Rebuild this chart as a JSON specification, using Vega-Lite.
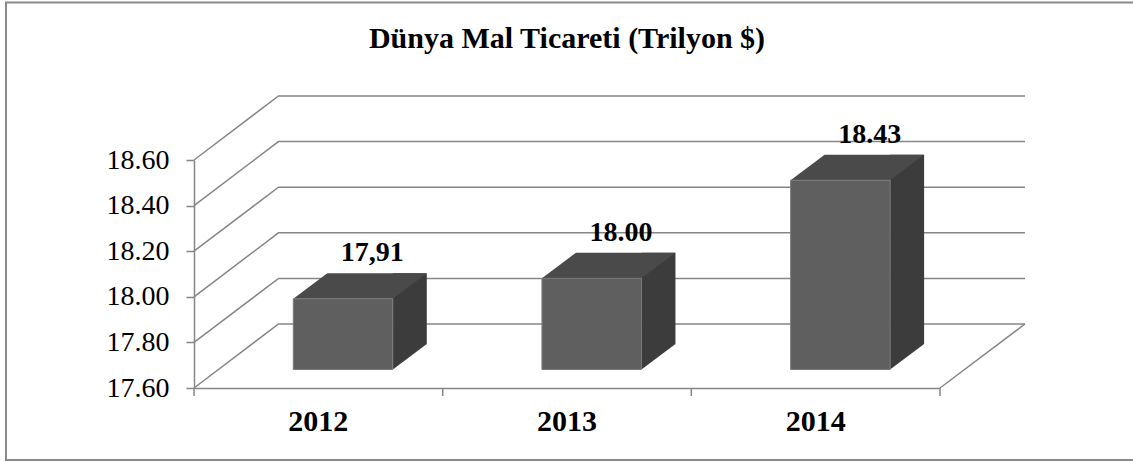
{
  "$schema": "https://vega.github.io/schema/vega-lite/v6.json",
  "width": 746,
  "height": 228,
  "autosize": {"type": "none"},
  "padding": {"left": 194, "top": 160, "right": 193, "bottom": 74},
  "background": "white",
  "title": {"text": "Dünya Mal Ticareti (Trilyon $)", "font": "Liberation Serif", "fontSize": 30, "fontWeight": "bold", "color": "black", "anchor": "middle", "offset": 0, "dy": 55},
  "config": {"view": {"stroke": null}, "axis": {"grid": false}},
  "datasets": {
    "bars": [
      {"year": "2012", "value": 17.91, "label": "17,91"},
      {"year": "2013", "value": 18.00, "label": "18.00"},
      {"year": "2014", "value": 18.43, "label": "18.43"}
    ],
    "ticks": [{"v": 17.6}, {"v": 17.8}, {"v": 18.0}, {"v": 18.2}, {"v": 18.4}, {"v": 18.6}]
  },
  "layer": [
    {
      "data": {"values": [{"v": 17.6}]},
      "mark": {"type": "point", "shape": "M-561,-385.5 L590,-385.5 L590,72 L-561,72 Z", "size": 4, "filled": false, "stroke": "#8a8a8a", "strokeWidth": 2, "opacity": 1},
      "encoding": {"y": {"field": "v", "type": "quantitative", "scale": {"domain": [17.6, 18.6], "zero": false, "nice": false}}}
    },
    {
      "data": {"name": "ticks"},
      "mark": {"type": "point", "shape": "M-373,0 L-288.5,-64 L458,-64", "size": 4, "filled": false, "stroke": "#868686", "strokeWidth": 1.5, "opacity": 1},
      "encoding": {"y": {"field": "v", "type": "quantitative", "scale": {"domain": [17.6, 18.6], "zero": false, "nice": false}}}
    },
    {
      "data": {"values": [{"v": 17.6}]},
      "mark": {"type": "point", "shape": "M373,0 L458,-64 M-373,0 L-373,8 M-124.3,0 L-124.3,8 M124.3,0 L124.3,8 M373,0 L373,8", "size": 4, "filled": false, "stroke": "#868686", "strokeWidth": 1.5, "opacity": 1},
      "encoding": {"y": {"field": "v", "type": "quantitative", "scale": {"domain": [17.6, 18.6], "zero": false, "nice": false}}}
    },
    {
      "data": {"name": "bars"},
      "mark": {"type": "bar", "fill": "#3c3c3c", "width": 34, "xOffset": 91.45, "yOffset": -44.1, "y2Offset": -44.1},
      "encoding": {
        "x": {"field": "year", "type": "ordinal", "scale": {"type": "band", "paddingInner": 0.6, "paddingOuter": 0.3}},
        "y": {"field": "value", "type": "quantitative", "scale": {"domain": [17.6, 18.6], "zero": false, "nice": false}},
        "y2": {"datum": 17.6}
      }
    },
    {
      "data": {"name": "bars"},
      "mark": {"type": "point", "shape": "M74.45,-18.5 L74.45,-44.1 L108.45,-44.1 Z", "size": 4, "filled": true, "fill": "#3c3c3c", "strokeWidth": 0, "opacity": 1},
      "encoding": {
        "x": {"field": "year", "type": "ordinal", "scale": {"type": "band", "paddingInner": 0.6, "paddingOuter": 0.3}},
        "y": {"datum": 17.6, "type": "quantitative", "scale": {"domain": [17.6, 18.6], "zero": false, "nice": false}}
      }
    },
    {
      "data": {"name": "bars"},
      "mark": {"type": "point", "shape": "M-25.05,-18.5 L74.45,-18.5 L108.45,-44.1 L8.95,-44.1 Z", "size": 4, "filled": true, "fill": "#4a4a4a", "strokeWidth": 0, "opacity": 1},
      "encoding": {
        "x": {"field": "year", "type": "ordinal", "scale": {"type": "band", "paddingInner": 0.6, "paddingOuter": 0.3}},
        "y": {"field": "value", "type": "quantitative", "scale": {"domain": [17.6, 18.6], "zero": false, "nice": false}}
      }
    },
    {
      "data": {"name": "bars"},
      "mark": {"type": "bar", "fill": "#5f5f5f", "stroke": "#7a7a7a", "strokeWidth": 1, "xOffset": 24.7, "yOffset": -18.5, "y2Offset": -18.5},
      "encoding": {
        "x": {"field": "year", "type": "ordinal", "scale": {"type": "band", "paddingInner": 0.6, "paddingOuter": 0.3},
          "axis": {"title": null, "labelFont": "Liberation Serif", "labelFontSize": 30, "labelFontWeight": "bold", "labelColor": "black", "labelAngle": 0, "labelAlign": "center", "bandPosition": 0.5, "domainColor": "#868686", "domainWidth": 1.5, "ticks": false, "tickSize": 0, "labelPadding": 33}},
        "y": {"field": "value", "type": "quantitative", "scale": {"domain": [17.6, 18.6], "zero": false, "nice": false},
          "axis": {"title": null, "values": [17.6, 17.8, 18, 18.2, 18.4, 18.6], "format": ".2f", "labelFont": "Liberation Serif", "labelFontSize": 28, "labelColor": "black", "domainColor": "#868686", "domainWidth": 1.5, "tickColor": "#868686", "tickSize": 8, "tickWidth": 1.5, "labelPadding": 17}},
        "y2": {"datum": 17.6}
      }
    },
    {
      "data": {"name": "bars"},
      "mark": {"type": "text", "font": "Liberation Serif", "fontSize": 28, "fontWeight": "bold", "color": "black", "dx": 54, "dy": -56, "baseline": "alphabetic"},
      "encoding": {
        "x": {"field": "year", "type": "ordinal", "scale": {"type": "band", "paddingInner": 0.6, "paddingOuter": 0.3}},
        "y": {"field": "value", "type": "quantitative", "scale": {"domain": [17.6, 18.6], "zero": false, "nice": false}},
        "text": {"field": "label"}
      }
    }
  ]
}
